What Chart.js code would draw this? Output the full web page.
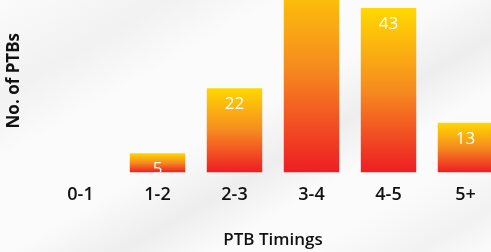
<!DOCTYPE html>
<html>
<head>
<meta charset="utf-8">
<script src="https://cdn.jsdelivr.net/npm/chart.js@4.4.0/dist/chart.umd.min.js"></script>
<style>
    html, body {
        margin: 0;
        padding: 0;
        width: 491px;
        height: 252px;
        overflow: hidden;
    }
    body {
        position: relative;
        background:
            linear-gradient(150deg, rgba(255,255,255,0) 0%, rgba(235,235,235,0.6) 18%, rgba(255,255,255,0) 30%,
                rgba(255,255,255,0) 48%, rgba(232,232,232,0.7) 60%, rgba(255,255,255,0) 70%,
                rgba(255,255,255,0) 80%, rgba(236,236,236,0.6) 92%, rgba(255,255,255,0) 100%),
            #fbfbfb;
    }
    #wrap {
        position: absolute;
        left: 0;
        top: -12px;
        width: 504px;
        height: 264px;
    }
</style>
</head>
<body>
<div id="wrap"><canvas id="ptbChart"></canvas></div>
<script>
// chart data
const categories = ['0-1', '1-2', '2-3', '3-4', '4-5', '5+'];
const ptbCounts = [0, 5, 22, 55, 43, 13];
const yMax = 48;

// gradient from the top of each bar down to its base
function barGradient(context) {
    const chart = context.chart;
    if (!chart.chartArea || !chart.scales.y) return '#f68b1f';
    const value = context.raw || 0;
    const yScale = chart.scales.y;
    const top = yScale.getPixelForValue(value);
    const bottom = yScale.getPixelForValue(0);
    if (bottom - top < 1) return '#f68b1f';
    const g = chart.ctx.createLinearGradient(0, top, 0, bottom);
    g.addColorStop(0, '#ffd800');
    g.addColorStop(0.5, '#f68b1f');
    g.addColorStop(1, '#ee1d24');
    return g;
}

// white value labels just inside the top of each bar
const valueLabels = {
    id: 'valueLabels',
    afterDatasetsDraw(chart) {
        const ctx = chart.ctx;
        const area = chart.chartArea;
        const meta = chart.getDatasetMeta(0);
        ctx.save();
        ctx.beginPath();
        ctx.rect(area.left, area.top, area.right - area.left, area.bottom - area.top);
        ctx.clip();
        ctx.fillStyle = '#ffffff';
        ctx.font = '17px "Open Sans"';
        ctx.textAlign = 'center';
        ctx.textBaseline = 'middle';
        meta.data.forEach((bar, i) => {
            ctx.fillText(String(ptbCounts[i]), bar.x, bar.y + 16);
        });
        ctx.restore();
    }
};

const ctx = document.getElementById('ptbChart').getContext('2d');
new Chart(ctx, {
    type: 'bar',
    data: {
        labels: categories,
        datasets: [{
            label: 'No. of PTBs',
            data: ptbCounts,
            backgroundColor: barGradient,
            borderWidth: 0
        }]
    },
    options: {
        responsive: true,
        maintainAspectRatio: false,
        animation: false,
        layout: {
            padding: { top: 1, left: 0, right: 0, bottom: 0 }
        },
        plugins: {
            legend: { display: false },
            tooltip: { enabled: false }
        },
        scales: {
            x: {
                grid: { display: false, drawTicks: false },
                border: { display: false },
                ticks: {
                    color: '#111111',
                    padding: 12,
                    font: { family: 'Open Sans', size: 18, weight: '600' }
                },
                title: {
                    display: true,
                    text: 'PTB Timings',
                    color: '#111111',
                    padding: { top: 11.6, bottom: 2 },
                    font: { family: 'Open Sans', size: 17, weight: '600' }
                }
            },
            y: {
                min: 0,
                max: yMax,
                grid: { display: false, drawTicks: false },
                border: { display: false },
                ticks: { display: false },
                title: {
                    display: true,
                    text: 'No. of PTBs',
                    color: '#111111',
                    padding: { top: 4, bottom: 17.6 },
                    font: { family: 'Open Sans', size: 17, weight: 'bold' }
                }
            }
        }
    },
    plugins: [valueLabels]
});
</script>
</body>
</html>
